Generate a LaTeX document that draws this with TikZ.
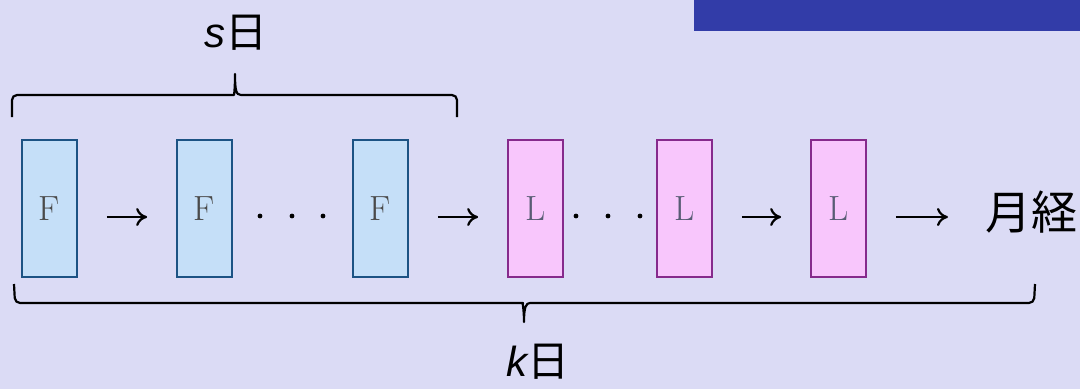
\documentclass[tikz,border=0pt]{standalone}
\usepackage{fontspec}
\newfontfamily\cjkfont{Noto Sans CJK JP}
\newfontfamily\latinsans{Liberation Sans}
\usetikzlibrary{arrows.meta,calc}
\definecolor{bgcol}{HTML}{DBDBF5}
\definecolor{bannercol}{HTML}{323CA8}
\definecolor{ffill}{HTML}{C5DFF8}
\definecolor{fdraw}{HTML}{1C5384}
\definecolor{lfill}{HTML}{F8C6FC}
\definecolor{ldraw}{HTML}{862A8C}
\definecolor{ftext}{HTML}{4A4A4A}
\definecolor{ltext}{HTML}{585C74}
\tikzset{
  daybox/.style={rectangle, minimum width=55pt, minimum height=137pt, inner sep=0pt,
    line width=2.7pt, font=\fontsize{35}{35}\selectfont},
  follicular/.style={daybox, fill=ffill, draw=fdraw, text=ftext},
  luteal/.style={daybox, fill=lfill, draw=ldraw, text=ltext},
  flow/.style={line width=2.2pt, -{Computer Modern Rightarrow[length=11pt, width=18pt]},
    shorten <=28.5pt, shorten >=28.5pt},
  bracket/.style={line width=2.2pt, line join=round},
  caption/.style={inner sep=0pt, font=\fontsize{42}{42}\selectfont},
  dot/.style={circle, fill=black, inner sep=0pt, minimum size=4.8pt}
}
\begin{document}
\begin{tikzpicture}[x=1pt, y=-1pt]
  \useasboundingbox (0,0) rectangle (1080,389);
  \fill[bgcol] (0,0) rectangle (1080,389);
  % title banner along the top edge
  \fill[bannercol] (694,0) rectangle (1080,31);

  % follicular days
  \node[follicular] (f1) at (49.5,208.5) {F};
  \node[follicular] (f2) at (204.5,208.5) {F};
  \node[follicular] (f3) at (380.5,208.5) {F};
  % luteal days
  \node[luteal] (l1) at (535.5,208.5) {L};
  \node[luteal] (l2) at (684.5,208.5) {L};
  \node[luteal] (l3) at (838.5,208.5) {L};
  % end of the cycle
  \node[inner sep=0pt, anchor=west, font=\cjkfont\fontsize{46}{46}\selectfont] (men) at (985,212) {月経};
  \coordinate (mentip) at ($(l3.east -| men.west)+(0,8.5)$);

  % transitions
  \draw[flow] ([yshift=-8.5pt]f1.east) -- ([yshift=-8.5pt]f2.west);
  \draw[flow] ([yshift=-8.5pt]f3.east) -- ([yshift=-8.5pt]l1.west);
  \draw[flow] ([yshift=-8.5pt]l2.east) -- ([yshift=-8.5pt]l3.west);
  \draw[flow, shorten >=37pt] ([yshift=-8.5pt]l3.east) -- (mentip);

  % ellipses
  \node[dot] (d1) at (260,216) {};
  \node[dot] (d2) at (292,216) {};
  \node[dot] (d3) at (323,216) {};
  \node[dot] (d4) at (576,216) {};
  \node[dot] (d5) at (608,216) {};
  \node[dot] (d6) at (640,216) {};

  % brace over the follicular phase
  \draw[bracket] (12,117) [rounded corners=5pt] -- (12,95) -- (229,95) [sharp corners]
    .. controls (234,95) and (235,90) .. (235,74)
    .. controls (235,90) and (236,95) .. (241,95) [rounded corners=5pt]
    -- (457,95) -- (457,117);
  \node[caption] (sdays) at (236,33) {{\latinsans\itshape s}{\cjkfont 日}};

  % brace under the whole cycle
  \draw[bracket] (14,284) [rounded corners=5pt] -- (15,303) -- (518,303) [sharp corners]
    .. controls (522,303) and (524,307) .. (524,322)
    .. controls (524,307) and (526,303) .. (530,303) [rounded corners=5pt]
    -- (1034,303) -- (1035,284);
  \node[caption] (kdays) at (538,362) {{\latinsans\itshape k}{\cjkfont 日}};
\end{tikzpicture}
\end{document}
